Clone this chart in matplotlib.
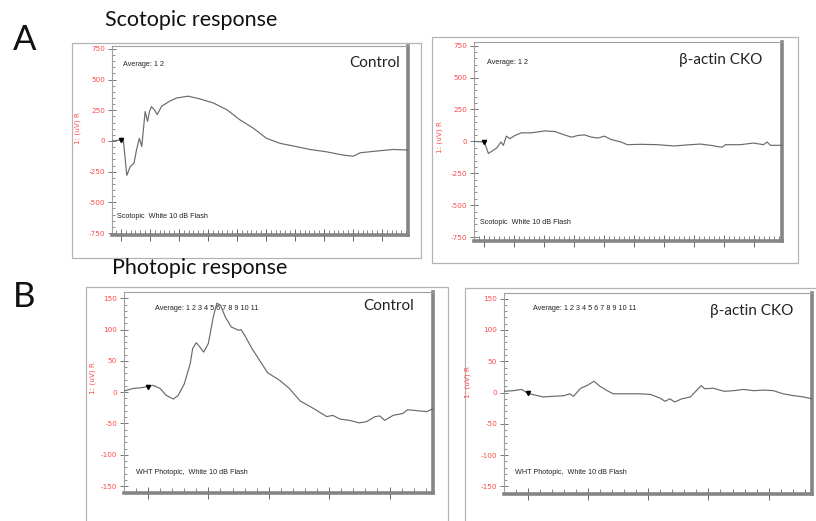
import matplotlib
matplotlib.use("Agg")
import matplotlib.pyplot as plt
from matplotlib.patches import Rectangle
from matplotlib.ticker import MultipleLocator

plt.rcParams['axes.unicode_minus'] = False

W, H = 816, 521

# ---------------- data (time in ms, amplitude in uV) ----------------
scot_ctrl_t = [-19, 0, 5, 12, 19, 27, 32, 38, 43, 50, 55, 59, 63, 69, 75, 84, 101, 115,
               139, 163, 191, 219, 246, 274, 301, 329, 357, 391, 425, 460, 481, 495,
               529, 564, 594]
scot_ctrl_v = [0, 8, 5, -280, -210, -180, -75, 22, -45, 240, 160, 240, 280, 255, 215, 283,
               325, 350, 365, 343, 310, 255, 173, 104, 22, -19, -41, -69, -88, -115, -124,
               -96, -82, -69, -74]

scot_cko_t = [-20, 0, 8, 15, 25, 33, 38, 44, 51, 61, 74, 94, 121, 141, 160, 174, 187, 200,
              214, 227, 240, 253, 273, 286, 313, 346, 379, 412, 432, 452, 475, 482, 512,
              538, 558, 565, 572, 594]
scot_cko_v = [0, -5, -95, -77, -51, -5, -31, 41, 21, 46, 67, 67, 82, 77, 51, 33, 46, 51, 33,
              26, 41, 15, -5, -26, -23, -26, -36, -26, -21, -31, -46, -26, -26, -13, -26,
              -5, -31, -31]

phot_ctrl_t = [-20, -12, -6, 0, 4, 10, 15, 21, 25, 30, 35, 37, 40, 43, 46, 50, 54, 57, 60,
               64, 69, 75, 77, 80, 86, 93, 99, 109, 117, 126, 137, 148, 153, 159, 167, 175,
               181, 188, 192, 196, 203, 211, 215, 225, 231, 236]
phot_ctrl_v = [2, 6, 7, 9, 11, 6, -5, -11, -5, 13, 46, 70, 79, 72, 64, 78, 120, 142, 139,
               120, 104, 99, 100, 91, 70, 49, 31, 19, 6, -14, -26, -39, -37, -43, -45, -49,
               -47, -39, -38, -45, -37, -34, -28, -30, -31, -26]

phot_cko_t = [-20, -12, -5, 0, 6, 13, 21, 30, 35, 38, 44, 49, 55, 60, 66, 71, 82, 93, 102,
              110, 114, 118, 122, 128, 135, 139, 144, 147, 154, 163, 171, 179, 188, 196,
              204, 212, 221, 229, 236]
phot_cko_v = [2, 3, 5, -1, -4, -7, -6, -5, -2, -6, 7, 11, 18, 10, 3, -2, -2, -2, -3, -9,
              -14, -10, -15, -10, -7, 1, 11, 6, 7, 2, 3, 5, 3, 4, 3, -2, -5, -7, -10]

scot_yticks = [-750, -500, -250, 0, 250, 500, 750]
phot_yticks = [-150, -100, -50, 0, 50, 100, 150]

fig = plt.figure(figsize=(W / 100, H / 100), dpi=100)
fig.patch.set_facecolor('white')


def fx(x):
    return x / W


def fy(y):
    return 1 - y / H


def outer_box(x1, y1, x2, y2):
    r = Rectangle((fx(x1), fy(y2)), fx(x2) - fx(x1), fy(y1) - fy(y2),
                  transform=fig.transFigure, fill=False, edgecolor='#b4b4b4',
                  linewidth=0.9, zorder=0)
    fig.patches.append(r)


def make_axes(x1, y1, x2, y2, xlim, ylim, yticks, ymin_step, xmaj, xmin):
    ax = fig.add_axes([fx(x1), fy(y2), fx(x2) - fx(x1), fy(y1) - fy(y2)])
    ax.set_xlim(*xlim)
    ax.set_ylim(*ylim)
    ax.set_yticks(yticks)
    ax.set_yticklabels([str(v) for v in yticks])
    ax.yaxis.set_minor_locator(MultipleLocator(ymin_step))
    ax.xaxis.set_major_locator(MultipleLocator(xmaj))
    ax.xaxis.set_minor_locator(MultipleLocator(xmin))
    ax.set_xticklabels([])
    for s in ['left', 'top']:
        ax.spines[s].set_color('#a0a0a0')
        ax.spines[s].set_linewidth(0.8)
    for s in ['right', 'bottom']:
        ax.spines[s].set_color('#858585')
        ax.spines[s].set_linewidth(2.6)
    ax.tick_params(axis='y', which='major', direction='inout', length=6, width=0.7,
                   color='#777777', labelcolor='#ff4a4a', labelsize=5.2, pad=2)
    ax.tick_params(axis='y', which='minor', direction='in', length=2.5, width=0.6,
                   color='#808080')
    ax.tick_params(axis='x', which='major', direction='inout', length=8, width=0.7,
                   color='#666666')
    ax.tick_params(axis='x', which='minor', direction='in', length=3.5, width=0.6,
                   color='#707070')
    return ax


def trace(ax, t, v):
    ax.plot(t, v, color='#6a6a6a', linewidth=0.85, zorder=3)
    i0 = t.index(0)
    ax.plot([t[i0]], [v[i0]], marker='v', color='black', markersize=3, zorder=4)


def ylab(x, y):
    fig.text(fx(x), fy(y), '1: (uV) R', rotation=90, color='#ff4a4a', fontsize=5.2,
             ha='center', va='center')


small = dict(fontsize=5.2, color='#222222', family='Liberation Sans')
big = dict(fontsize=11, color='#222222', family='Lato')

# outer frames
outer_box(72, 43, 421, 258)
outer_box(432, 37, 798, 263)
outer_box(86, 287, 448, 530)
outer_box(465, 288, 830, 530)

# A left
ax1 = make_axes(112, 46, 408, 235, (-18.6, 594), (-766, 774), scot_yticks, 50, 60, 10)
trace(ax1, scot_ctrl_t, scot_ctrl_v)
fig.text(fx(123), fy(64), 'Average: 1 2', ha='left', va='center', **small)
fig.text(fx(117), fy(216), 'Scotopic  White 10 dB Flash', ha='left', va='center', **small)
fig.text(fx(400), fy(63), 'Control', ha='right', va='center', **big)
ylab(78, 128)

# A right
ax2 = make_axes(474, 42, 782, 241, (-20.7, 595), (-781, 779), scot_yticks, 50, 60, 10)
trace(ax2, scot_cko_t, scot_cko_v)
fig.text(fx(487), fy(62), 'Average: 1 2', ha='left', va='center', **small)
fig.text(fx(480), fy(222), 'Scotopic  White 10 dB Flash', ha='left', va='center', **small)
fig.text(fx(762), fy(60), 'β-actin CKO', ha='right', va='center', **big)
ylab(440, 137)

# B left
ax3 = make_axes(124, 292, 433, 493, (-19.9, 236), (-161, 160), phot_yticks, 10, 50, 10)
trace(ax3, phot_ctrl_t, phot_ctrl_v)
fig.text(fx(155), fy(308), 'Average: 1 2 3 4 5 6 7 8 9 10 11', ha='left', va='center', **small)
fig.text(fx(136), fy(473), 'WHT Photopic,  White 10 dB Flash', ha='left', va='center', **small)
fig.text(fx(414), fy(306), 'Control', ha='right', va='center', **big)
ylab(93, 378)

# B right
ax4 = make_axes(504, 293, 812, 494, (-19.7, 236), (-162, 159), phot_yticks, 10, 50, 10)
trace(ax4, phot_cko_t, phot_cko_v)
fig.text(fx(533), fy(308), 'Average: 1 2 3 4 5 6 7 8 9 10 11', ha='left', va='center', **small)
fig.text(fx(515), fy(473), 'WHT Photopic,  White 10 dB Flash', ha='left', va='center', **small)
fig.text(fx(793), fy(311), 'β-actin CKO', ha='right', va='center', **big)
ylab(468, 382)

# panel titles
fig.text(fx(105), fy(20), 'Scotopic response', ha='left', va='center', fontsize=15.5,
         family='Lato', color='#111111')
fig.text(fx(112), fy(268), 'Photopic response', ha='left', va='center', fontsize=15.5,
         family='Lato', color='#111111')
fig.text(fx(13), fy(40), 'A', ha='left', va='center', fontsize=25, family='Lato',
         color='#111111')
fig.text(fx(13), fy(297), 'B', ha='left', va='center', fontsize=25, family='Lato',
         color='#111111')

fig.savefig('out.png', dpi=100, facecolor='white')
